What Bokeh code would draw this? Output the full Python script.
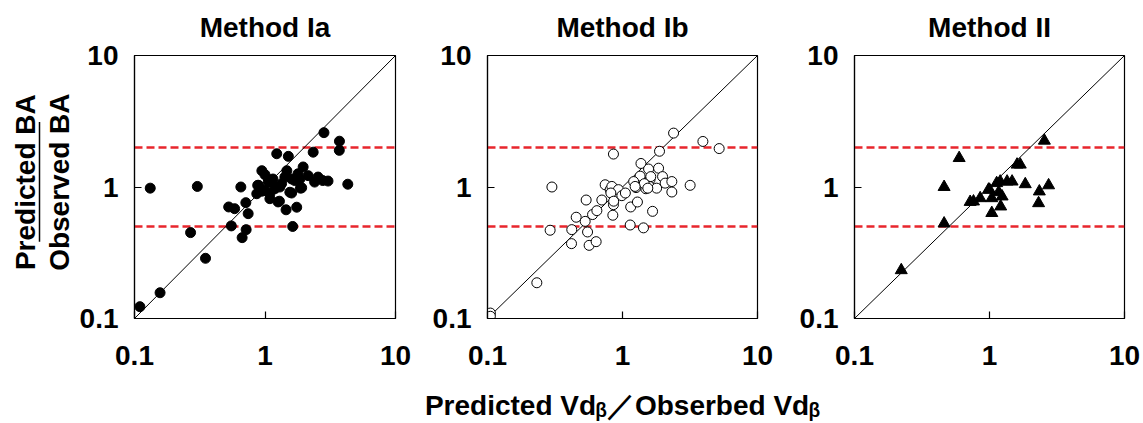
import math
from bokeh.plotting import figure
from bokeh.layouts import row, column
from bokeh.models import FixedTicker, CustomJSTickFormatter, Title
from bokeh.embed import file_html
from bokeh.resources import INLINE
from bokeh.core.properties import value

FONT = "Liberation Sans"

panel_titles = ["Method Ia", "Method Ib", "Method II"]
tick_values = [0.1, 1, 10]
identity = [0.1, 10]
upper_limit = 2.0
lower_limit = 0.5
y_label_top = "Predicted BA"
y_label_bottom = "Observed BA"
x_label = "Predicted Vd\u1d66\uff0fObserbed Vd\u1d66"

# Method Ia (filled circles)
x_ia = [0.110, 0.157, 0.132, 0.303, 0.269, 0.350, 0.653, 0.527, 0.585, 0.713,
        0.743, 0.552, 0.717, 0.668, 0.879, 0.865, 0.946, 1.00, 1.12, 1.09,
        1.00, 1.26, 1.23, 1.51, 1.47, 1.42, 1.19, 1.34, 1.60, 1.45,
        1.75, 1.63, 1.87, 1.69, 1.96, 2.14, 1.79, 2.34, 2.83, 2.40,
        2.55, 2.77, 3.04, 3.72, 3.71, 4.31, 1.85, 1.60, 1.09, 0.893,
        1.30, 1.91, 1.55, 1.09, 1.29, 1.06, 1.15, 0.95]
y_ia = [0.123, 0.157, 0.98, 1.01, 0.45, 0.287, 1.00, 0.705, 0.684, 0.76,
        0.627, 0.506, 0.474, 0.412, 1.03, 0.889, 1.33, 1.24, 1.09, 0.815,
        0.944, 0.77, 1.79, 1.71, 1.33, 1.19, 0.97, 1.06, 0.90, 0.671,
        0.702, 0.501, 0.98, 1.12, 1.42, 1.22, 1.26, 1.84, 2.59, 1.09,
        1.19, 1.12, 1.11, 2.23, 1.90, 1.05, 1.15, 1.15, 1.09, 1.03,
        1.00, 0.986, 0.912, 0.888, 0.78, 1.10, 1.15, 0.93]

# Method Ib (open circles)
x_ib = [0.105, 0.105, 0.232, 0.300, 0.291, 0.421, 0.419, 0.454, 0.529, 0.551,
        0.566, 0.638, 0.538, 0.600, 0.646, 0.703, 0.744, 0.810, 0.834, 0.857,
        0.848, 0.857, 0.933, 0.989, 1.05, 1.15, 1.14, 1.29, 1.26, 1.35,
        1.37, 1.43, 1.49, 1.56, 1.60, 1.58, 1.67, 1.79, 1.85, 1.98,
        1.88, 2.07, 2.32, 2.32, 2.39, 3.17, 3.94, 5.20, 1.21, 0.82,
        0.86, 1.62, 1.45, 1.24, 1.54]
y_ib = [0.110, 0.104, 0.187, 1.00, 0.469, 0.474, 0.371, 0.589, 0.548, 0.455,
        0.360, 0.384, 0.796, 0.617, 0.661, 0.796, 1.04, 0.955, 1.01, 0.734,
        0.610, 1.78, 0.955, 0.859, 0.90, 0.705, 0.514, 0.769, 0.99, 1.21,
        1.51, 0.489, 0.97, 1.37, 1.14, 1.01, 0.653, 0.98, 1.39, 1.20,
        1.87, 1.07, 1.10, 0.916, 2.57, 1.03, 2.22, 1.96, 1.10, 0.90,
        0.78, 1.20, 1.06, 1.01, 0.98]

# Method II (filled triangles)
x_ii = [0.222, 0.461, 0.461, 0.596, 0.719, 0.761, 0.853, 0.984, 1.04, 1.04,
        1.13, 1.20, 1.17, 1.21, 1.24, 1.35, 1.47, 1.60, 1.69, 1.84,
        2.34, 2.31, 2.74, 2.55, 1.00]
y_ii = [0.233, 0.528, 1.00, 1.66, 0.77, 0.776, 0.822, 0.955, 0.822, 0.634,
        1.07, 1.10, 0.913, 0.711, 0.847, 1.10, 1.10, 1.48, 1.48, 1.05,
        0.925, 0.753, 1.03, 2.25, 0.953]

FS = "28px"
RED = "#e8262d"
TOP_H = 380


def make_panel(title, xs, ys, marker, fill, size, frame_w, left, right):
    p = figure(width=left + frame_w + right, height=TOP_H,
               x_axis_type="log", y_axis_type="log",
               x_range=(0.1, 10), y_range=(0.1, 10),
               output_backend="svg", toolbar_location=None, title=None,
               min_border_left=left, min_border_right=right,
               min_border_top=55, min_border_bottom=62)
    # thin spacer between frame and the title text
    p.add_layout(Title(text=" ", text_font_size="5px", standoff=0), "above")
    p.add_layout(Title(text=title, align="center", text_font=FONT,
                       text_font_size=FS, text_font_style="bold",
                       text_color="black"), "above")
    p.grid.visible = False
    p.outline_line_color = "black"
    p.outline_line_width = 1.2
    p.background_fill_color = "white"
    p.border_fill_color = "white"
    fmt = CustomJSTickFormatter(code="return tick >= 1 ? tick.toFixed(0) : tick.toFixed(1);")
    for ax in (p.xaxis[0], p.yaxis[0]):
        ax.ticker = FixedTicker(ticks=tick_values, minor_ticks=[])
        ax.formatter = fmt
        ax.major_tick_in = 7
        ax.major_tick_out = 0
        ax.minor_tick_line_color = None
        ax.axis_line_color = "black"
        ax.axis_line_width = 1.2
        ax.major_tick_line_color = "black"
        ax.major_tick_line_width = 1.2
        ax.major_label_text_font = FONT
        ax.major_label_text_font_size = FS
        ax.major_label_text_font_style = "bold"
        ax.major_label_text_color = "black"
    p.xaxis.major_label_standoff = 27
    p.yaxis.major_label_standoff = 16

    p.line(identity, [upper_limit, upper_limit], line_color=RED, line_width=2.5, line_dash="8 4")
    p.line(identity, [lower_limit, lower_limit], line_color=RED, line_width=2.5, line_dash="8 4")
    p.line(identity, identity, line_color="black", line_width=1)
    p.scatter(xs, ys, marker=marker, size=size, fill_color=fill,
              line_color="black", line_width=1)
    return p


p1 = make_panel(panel_titles[0], x_ia, y_ia, "circle", "black", 10, 263, 56, 25)
p2 = make_panel(panel_titles[1], x_ib, y_ib, "circle", "white", 10, 270, 67, 27)
p3 = make_panel(panel_titles[2], x_ii, y_ii, "triangle", "black", 12, 270, 70, 19)

# left label panel (fraction label)
LAB_W = 76
lab = figure(width=LAB_W, height=TOP_H, x_range=(0, LAB_W), y_range=(0, TOP_H),
             x_axis_type=None, y_axis_type=None, output_backend="svg",
             toolbar_location=None, min_border=0, outline_line_color=None)
lab.grid.visible = False
lab.text(x=[25], y=[197], text=[y_label_top], angle=math.pi / 2,
         text_font=value(FONT), text_font_style="bold", text_font_size=FS,
         text_align="center", text_baseline="middle", text_color="black")
lab.text(x=[59], y=[197], text=[y_label_bottom], angle=math.pi / 2,
         text_font=value(FONT), text_font_style="bold", text_font_size=FS,
         text_align="center", text_baseline="middle", text_color="black")
lab.line([39, 39], [111, 284], line_color="black", line_width=1.5)

# bottom x label panel
bot = figure(width=1143, height=43, x_range=(0, 1143), y_range=(0, 43),
             x_axis_type=None, y_axis_type=None, output_backend="svg",
             toolbar_location=None, min_border=0, outline_line_color=None)
bot.grid.visible = False
bot.text(x=[622], y=[18], text=[x_label],
         text_font=value(FONT), text_font_style="bold", text_font_size=FS,
         text_align="center", text_baseline="middle", text_color="black")

layout = column(row(lab, p1, p2, p3), bot)

with open("out.html", "w") as f:
    f.write(file_html(layout, INLINE))
